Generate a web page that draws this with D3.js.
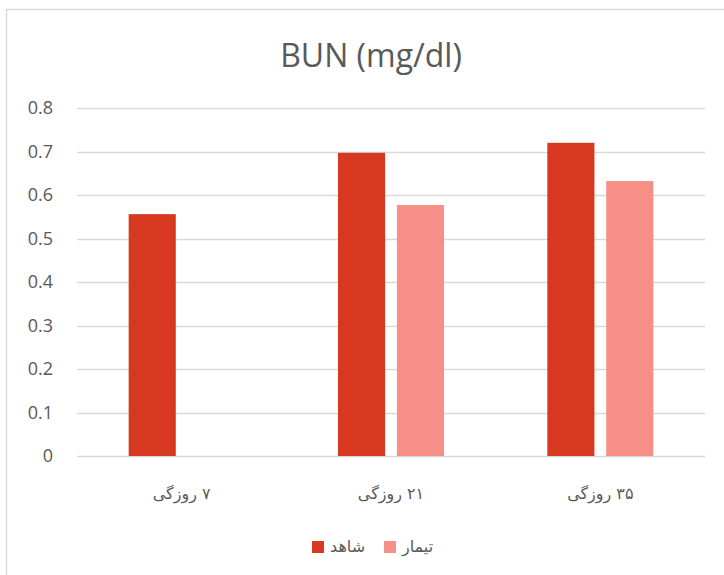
<!DOCTYPE html>
<html>
<head>
<meta charset="utf-8">
<script src="https://cdn.jsdelivr.net/npm/d3@7"></script>
<style>
  body { margin: 0; background: #fff; }
  svg { display: block; }
  text { font-family: "Open Sans", "DejaVu Sans", sans-serif; fill: #595959; }
  .fa { font-family: "DejaVu Sans", sans-serif; }
</style>
</head>
<body>
<div id="chart"></div>
<script>
// data
var categories = ["۷ روزگی", "۲۱ روزگی", "۳۵ روزگی"]
var seriesNames = ["شاهد", "تیمار"]
var control = [0.556, 0.697, 0.72]
var treatment = [null, 0.577, 0.632]
var yTicks = [0, 0.1, 0.2, 0.3, 0.4, 0.5, 0.6, 0.7, 0.8]
var colors = ["#D6391F", "#F58F88"]

var width = 724, height = 575
var plot = { left: 77, right: 705, top: 108, bottom: 456 }

var rows = categories.map((c, i) => ({ cat: c, vals: [control[i], treatment[i]] }))

var svg = d3.select("#chart").append("svg")
	.attr("width", width)
	.attr("height", height)

// chart frame
svg.append("rect")
	.attr("x", 6.5).attr("y", 9.5)
	.attr("width", 740).attr("height", 600)
	.attr("fill", "none")
	.attr("stroke", "#d9d9d9")
	.attr("stroke-width", 1.5)

var x0 = d3.scaleBand().domain(categories).range([plot.left, plot.right]).padding(0)
var x1 = d3.scaleBand().domain(seriesNames).range([-53, 53]).paddingInner(0.2)
var y = d3.scaleLinear().domain([0, 0.8]).range([plot.bottom, plot.top])

// grid
svg.append("g")
	.selectAll("line")
	.data(yTicks)
	.join("line")
	.attr("x1", plot.left).attr("x2", plot.right)
	.attr("y1", d => Math.round(y(d)) + 0.5)
	.attr("y2", d => Math.round(y(d)) + 0.5)
	.attr("stroke", "#d9d9d9")
	.attr("stroke-width", 1.3)

// y labels
svg.append("g")
	.selectAll("text")
	.data(yTicks)
	.join("text")
	.attr("x", 53)
	.attr("y", d => y(d))
	.attr("dy", "0.35em")
	.attr("text-anchor", "end")
	.style("font-size", "18px")
	.text(d => d === 0 ? "0" : d3.format(".1f")(d))

// bars
var groups = svg.append("g")
	.selectAll("g")
	.data(rows)
	.join("g")
	.attr("transform", d => "translate(" + (x0(d.cat) + x0.bandwidth() / 2) + ",0)")

groups.selectAll("rect")
	.data(d => d.vals.map((v, i) => ({ name: seriesNames[i], v: v, i: i })).filter(e => e.v != null))
	.join("rect")
	.attr("x", d => x1(d.name))
	.attr("width", x1.bandwidth())
	.attr("y", d => y(d.v))
	.attr("height", d => y(0) - y(d.v))
	.attr("fill", d => colors[d.i])

// category labels
svg.append("g")
	.selectAll("text")
	.data(categories)
	.join("text")
	.attr("class", "fa")
	.attr("x", d => x0(d) + x0.bandwidth() / 2)
	.attr("y", 499)
	.attr("text-anchor", "middle")
	.attr("direction", "rtl")
	.style("font-size", "16px")
	.text(d => d)

// title
svg.append("text")
	.attr("x", 371)
	.attr("y", 67)
	.attr("text-anchor", "middle")
	.style("font-size", "32px")
	.text("BUN (mg/dl)")

// legend
var legendX = [312, 384]
var legend = svg.append("g")
	.selectAll("g")
	.data(seriesNames)
	.join("g")
	.attr("transform", (d, i) => "translate(" + legendX[i] + ",541)")

legend.append("rect")
	.attr("width", 12).attr("height", 12)
	.attr("fill", (d, i) => colors[i])

legend.append("text")
	.attr("class", "fa")
	.attr("x", 18)
	.attr("y", 11)
	.style("font-size", "16px")
	.text(d => d)
</script>
</body>
</html>
